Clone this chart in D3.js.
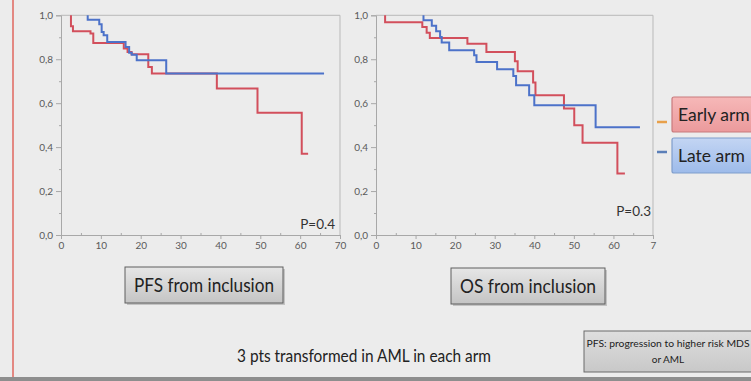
<!DOCTYPE html>
<html><head><meta charset="utf-8">
<script src="https://cdn.jsdelivr.net/npm/d3@7"></script>
<style>
html,body{margin:0;padding:0;background:#ececec;}
svg{display:block;}
</style></head>
<body>
<script>
// ---- data ----
const pfsEarlyTimes = [2.5, 3.0, 7.4, 8.1, 15.75, 16.7, 17.7, 21.9, 22.8, 39.1, 49.3, 60.4];
const pfsEarlySurv  = [0.95, 0.927, 0.917, 0.874, 0.849, 0.833, 0.823, 0.765, 0.735, 0.667, 0.556, 0.37];
const pfsEarlyEnd = 62;
const pfsLateTimes = [6.7, 9.6, 10.2, 10.7, 11.6, 16.2, 17.1, 17.75, 19.0, 26.4];
const pfsLateSurv  = [0.98, 0.959, 0.924, 0.909, 0.879, 0.856, 0.83, 0.821, 0.795, 0.735];
const pfsLateEnd = 66;
const osEarlyTimes = [2.3, 11.7, 12.8, 13.6, 23.1, 27.9, 35.1, 35.8, 39.7, 40.3, 47.5, 50.1, 52.2, 61.0];
const osEarlySurv  = [0.968, 0.947, 0.921, 0.897, 0.870, 0.833, 0.791, 0.745, 0.694, 0.636, 0.576, 0.5, 0.42, 0.28];
const osEarlyEnd = 62.9;
const osLateTimes = [12.0, 14.1, 15.2, 16.2, 16.6, 18.5, 24.8, 25.4, 30.6, 34.7, 35.4, 38.7, 40.0, 55.5];
const osLateSurv  = [0.977, 0.952, 0.927, 0.901, 0.876, 0.841, 0.818, 0.788, 0.755, 0.724, 0.682, 0.636, 0.591, 0.49];
const osLateEnd = 66.7;
const xTicks = [0, 10, 20, 30, 40, 50, 60, 70];
const xTickLabelsPFS = ["0", "10", "20", "30", "40", "50", "60", "70"];
const xTickLabelsOS = ["0", "10", "20", "30", "40", "50", "60", "7"];
const yTicks = [0, 0.2, 0.4, 0.6, 0.8, 1.0];
const yTickLabels = ["0,0", "0,2", "0,4", "0,6", "0,8", "1,0"];
const seriesNames = ["Early arm", "Late arm"];
const pValues = ["P=0.4", "P=0.3"];
const panelTitles = ["PFS from inclusion", "OS from inclusion"];

const RED = "#d24f5c", BLUE = "#4c72c9";

const svg = d3.select("body").append("svg").attr("width", 751).attr("height", 381);
svg.append("rect").attr("width", 751).attr("height", 381).attr("fill", "#ececec");

const defs = svg.append("defs");
function grad(id, c1, c2){
  const g = defs.append("linearGradient").attr("id", id).attr("x1",0).attr("y1",0).attr("x2",0).attr("y2",1);
  g.append("stop").attr("offset","0%").attr("stop-color",c1);
  g.append("stop").attr("offset","100%").attr("stop-color",c2);
}
grad("gGray", "#e6e6e6", "#c4c4c4");
grad("gRed", "#f6b8b8", "#eb9a9c");
grad("gBlue", "#c3d5f3", "#9dbbea");
grad("gNote", "#dedede", "#c8c8c8");

function pts(times, surv, end){
  const p = [[times[0], 1]];
  times.forEach((t,i)=>p.push([t, surv[i]]));
  p.push([end, surv[surv.length-1]]);
  return p;
}

function panel(x0, x1, labels, series, pText, pPos){
  const x = d3.scaleLinear().domain([0,70]).range([x0, x1]);
  const y = d3.scaleLinear().domain([0,1]).range([235, 15.3]);
  const g = svg.append("g");
  // frame
  g.append("line").attr("x1", x(0)).attr("x2", x(70)).attr("y1", y(1)).attr("y2", y(1)).attr("stroke","#b9b9b9");
  g.append("line").attr("x1", x(70)).attr("x2", x(70)).attr("y1", y(1)).attr("y2", y(0)).attr("stroke","#b9b9b9");
  // y axis
  const ya = d3.axisLeft(y).tickValues(yTicks).tickFormat((d,i)=>yTickLabels[i]).tickSize(5).tickPadding(3);
  g.append("g").attr("transform", `translate(${x(0)},0)`).call(ya);
  const yMinor = d3.axisLeft(y).tickValues(d3.range(0.1,1,0.2)).tickFormat("").tickSize(2);
  g.append("g").attr("transform", `translate(${x(0)},0)`).call(yMinor).select(".domain").remove();
  // x axis
  const xa = d3.axisBottom(x).tickValues(xTicks).tickFormat((d,i)=>labels[i]).tickSize(4).tickPadding(3);
  g.append("g").attr("transform", `translate(0,${y(0)})`).call(xa);
  const xMinor = d3.axisBottom(x).tickValues(d3.range(5,70,10)).tickFormat("").tickSize(-2);
  g.append("g").attr("transform", `translate(0,${y(0)})`).call(xMinor).select(".domain").remove();
  g.selectAll(".domain").attr("stroke","#a8a8a8");
  g.selectAll(".tick line").attr("stroke","#a8a8a8");
  g.selectAll(".tick text").attr("fill","#5a5a5a").attr("font-family","Lato, 'Open Sans', sans-serif").attr("font-size",10);
  // curves
  const line = d3.line().x(d=>x(d[0])).y(d=>y(d[1])).curve(d3.curveStepAfter);
  series.forEach(s=>{
    g.append("path").attr("d", line(s.p)).attr("fill","none").attr("stroke", s.c).attr("stroke-width", 2);
  });
  g.append("text").attr("x", pPos[0]).attr("y", pPos[1]).attr("text-anchor","end")
    .attr("font-family","Lato, 'Open Sans', sans-serif").attr("font-size",13.5).attr("fill","#333").text(pText);
}

panel(61, 340, xTickLabelsPFS, [
  {p: pts(pfsEarlyTimes, pfsEarlySurv, pfsEarlyEnd), c: RED},
  {p: pts(pfsLateTimes, pfsLateSurv, pfsLateEnd), c: BLUE}
], pValues[0], [335, 229]);
panel(376, 653, xTickLabelsOS, [
  {p: pts(osEarlyTimes, osEarlySurv, osEarlyEnd), c: RED},
  {p: pts(osLateTimes, osLateSurv, osLateEnd), c: BLUE}
], pValues[1], [651, 216]);

// legend
const FONT = "Lato, 'Open Sans', sans-serif";
[[97, 35, "url(#gRed)", "#c87a7d", "#e8a04a", 122], [138, 35, "url(#gBlue)", "#7f9dcc", "#5b7fb8", 152]].forEach((b,i)=>{
  svg.append("rect").attr("x", 672).attr("y", b[0]).attr("width", 90).attr("height", b[1])
    .attr("fill", b[2]).attr("stroke", b[3]).attr("stroke-width",1.2).attr("rx",2);
  svg.append("text").attr("x", 678).attr("y", b[0] + 24).attr("font-family", FONT).attr("font-size", 17.5)
    .attr("fill","#222").text(seriesNames[i]);
  svg.append("line").attr("x1", 657).attr("x2", 667).attr("y1", b[5]).attr("y2", b[5])
    .attr("stroke", b[4]).attr("stroke-width", 2.5);
});

// panel title boxes
[[125, 267, 158, 36], [451, 268, 154, 36]].forEach((b,i)=>{
  svg.append("rect").attr("x", b[0]+2).attr("y", b[1]+2).attr("width", b[2]).attr("height", b[3]).attr("fill","#9a9a9a").attr("opacity",0.5);
  svg.append("rect").attr("x", b[0]).attr("y", b[1]).attr("width", b[2]).attr("height", b[3])
    .attr("fill","url(#gGray)").attr("stroke","#5e5e5e").attr("stroke-width",1);
  svg.append("text").attr("x", b[0]+b[2]/2).attr("y", b[1]+25).attr("text-anchor","middle")
    .attr("font-family", FONT).attr("font-size", 19).attr("fill","#222")
    .attr("textLength", b[2]-18).attr("lengthAdjust","spacingAndGlyphs").text(panelTitles[i]);
});

// note
svg.append("text").attr("x", 237).attr("y", 362).attr("font-family", FONT).attr("font-size", 16.5).attr("fill","#222")
  .attr("textLength", 254).attr("lengthAdjust","spacingAndGlyphs").text("3 pts transformed in AML in each arm");

svg.append("rect").attr("x", 584).attr("y", 331).attr("width", 180).attr("height", 41)
  .attr("fill","url(#gNote)").attr("stroke","#6a6a6a").attr("stroke-width",1);
svg.append("text").attr("x", 668).attr("y", 347).attr("text-anchor","middle").attr("font-family", FONT).attr("font-size", 10)
  .attr("fill","#222").attr("textLength", 163).attr("lengthAdjust","spacingAndGlyphs").text("PFS: progression to higher risk MDS");
svg.append("text").attr("x", 668).attr("y", 363).attr("text-anchor","middle").attr("font-family", FONT).attr("font-size", 10)
  .attr("fill","#222").text("or AML");

// left red rule and bottom bar
svg.append("line").attr("x1", 13).attr("x2", 13).attr("y1", 0).attr("y2", 377).attr("stroke","#e0675f").attr("stroke-width",1.5);
svg.append("rect").attr("x", 0).attr("y", 377).attr("width", 751).attr("height", 4).attr("fill","#8e8e8e");
</script>
</body></html>
